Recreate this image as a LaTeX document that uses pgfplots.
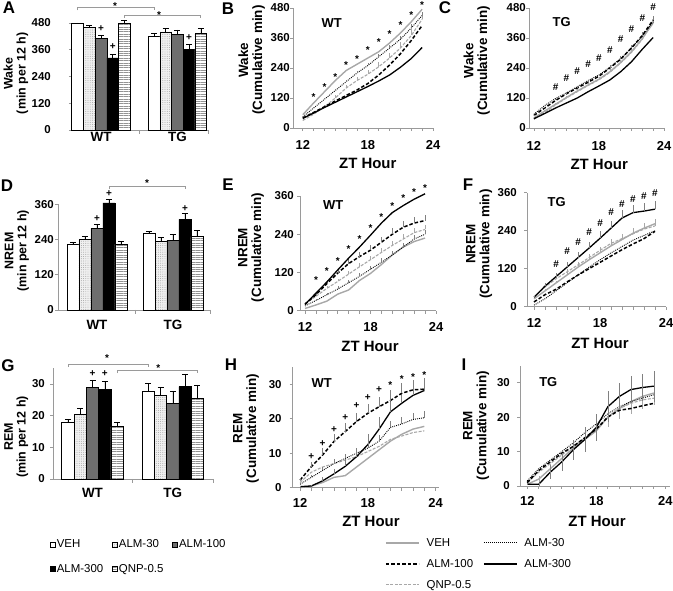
\documentclass[border=0pt]{standalone}
\usepackage{fontspec}
\setmainfont{Liberation Sans}
\usepackage{pgfplots}
\usepackage{pgfplotstable}
\pgfplotsset{compat=1.18}
\usetikzlibrary{patterns.meta}
\definecolor{axgray}{HTML}{9A9A9A}
\definecolor{lgray}{HTML}{A8A8A8}
\newcommand{\hs}{\#}

\pgfplotsset{
  base/.style={scale only axis, axis lines=left,
    axis line style={draw=axgray, line width=0.8bp, -},
    tick style={draw=axgray, line width=0.7bp},
    tick align=outside, major tick length=3bp, minor tick length=3bp,
    tick label style={font=\fontsize{11.5}{12}\selectfont\bfseries, inner sep=0pt},
    /pgf/number format/assume math mode=true,
    clip=false, ymin=0,
    ylabel style={font=\fontsize{13.5}{14}\selectfont\bfseries, align=center, anchor=center},
    xlabel style={font=\fontsize{15}{15}\selectfont\bfseries, anchor=center},
    yticklabel style={anchor=east},
    xticklabel style={anchor=center}},
  lp/.style={base, xtick={12,18,24}, minor xtick={12,...,24},
    x tick label style={font=\fontsize{13}{13}\selectfont\bfseries}},
  bp/.style={base, xtick={0,1}, xticklabels={WT,TG}, xtick style={draw=none},
    x tick label style={font=\fontsize{13.5}{14}\selectfont\bfseries},
    ylabel style={font=\fontsize{12.5}{13}\selectfont\bfseries}},
  bveh/.style={draw=black, line width=0.6bp, fill=white},
  ba30/.style={draw=black, line width=0.6bp, fill=gray!12, postaction={pattern color=gray!80, pattern={Dots[distance=2.2bp, radius=0.45bp]}}},
  ba100/.style={draw=black, line width=0.6bp, fill=black!57},
  ba300/.style={draw=black, line width=0.6bp, fill=black},
  bqnp/.style={draw=black, line width=0.6bp, fill=white, postaction={pattern color=gray!85, pattern={Lines[angle=0, distance=2.4bp, line width=0.7bp]}}},
  be/.style={error bars/.cd, y dir=plus, y explicit, error bar style={solid, black, line width=0.6bp}, error mark options={rotate=90, mark size=3bp, black, line width=0.6bp, solid}},
  lveh/.style={draw=lgray, line width=1.4bp, solid},
  la30/.style={draw=black, line width=0.9bp, dash pattern=on 0.9bp off 1.1bp},
  la100/.style={draw=black, line width=1.5bp, dash pattern=on 3.5bp off 2bp},
  la300/.style={draw=black, line width=1.3bp, solid},
  lqnp/.style={draw=lgray, line width=1.1bp, dash pattern=on 3bp off 1.5bp},
  eb/.style={error bars/.cd, y dir=plus, y explicit, error mark=none, error bar style={solid, line width=0.5bp, draw=#1}},
  ebb/.style={error bars/.cd, y dir=both, y explicit, error mark=none, error bar style={solid, line width=0.5bp, draw=#1}},
  tm/.style={only marks, mark=text, text mark={#1}, text mark as node=true, text mark style={inner sep=0pt, anchor=center, font=\fontsize{10}{10}\selectfont\bfseries}},
  brk/.style={draw=axgray, line width=0.7bp},
}

\pgfplotstableread{
x veh eveh a30 ea30 a100 ea100 a300 ea300 qnp eqnp
0 477 3 459 12 410 15 323 15 477 15
1 420 12 440 15 429 20 361 23 432 22
}\tabA
\pgfplotstableread{
x veh eveh a30 ea30 a100 ea100 a300 ea300 qnp eqnp
0 224 8 241 11 278 15 365 12 224 10
1 261 8 233 14 238 20 309 20 250 20
}\tabD
\pgfplotstableread{
x veh eveh a30 ea30 a100 ea100 a300 ea300 qnp eqnp
0 17.8 1.0 20.3 2.0 28.9 2.4 28.4 2.5 16.5 1.3
1 27.7 2.4 26.5 2.4 23.9 3.9 29.2 4.0 25.5 4.2
}\tabG
\pgfplotstableread{
h veh a30 a100 a300 qnp ea30 eqnp
12 53 45 40 38 30 3 4
13 100 80 62 60 55 5 6
14 145 115 85 82 85 6 8
15 190 150 108 103 120 7 10
16 230 185 130 124 160 8 12
17 255 220 152 145 190 9 14
18 280 250 178 166 215 10 16
19 305 285 212 188 245 11 18
20 340 320 252 212 280 12 20
21 380 355 297 243 320 13 22
22 425 400 350 278 370 14 24
23 475 450 410 322 435 15 26
}\tabB
\pgfplotstableread{
h veh a30 a100 a300 qnp eveh ea100
12 40 55 50 37 35 3 3
13 68 90 80 58 62 4 5
14 95 118 110 80 92 5 6
15 122 140 137 100 120 6 7
16 148 165 160 120 145 7 8
17 172 190 183 145 170 8 9
18 195 212 207 168 193 9 10
19 225 243 240 192 222 10 11
20 262 278 275 225 260 11 12
21 305 320 320 265 302 12 13
22 358 368 370 315 355 12 14
23 420 425 432 362 430 12 15
}\tabC
\pgfplotstableread{
h veh a30 a100 a300 qnp ea30 ea100 eqnp
12 7 15 20 20 22 3 5 4
13 18 32 50 55 45 5 8 6
14 30 50 85 90 70 6 10 8
15 52 68 118 128 92 8 12 9
16 65 88 148 165 115 9 14 10
17 95 108 170 200 138 10 15 11
18 117 130 190 237 160 11 16 12
19 145 152 215 275 183 12 17 13
20 175 175 240 308 205 12 18 14
21 200 200 262 330 225 13 18 15
22 217 225 275 350 245 13 18 15
23 228 240 283 367 255 13 18 15
}\tabE
\pgfplotstableread{
h veh a30 a100 a300 qnp eveh ea300 eqnp
12 25 5 15 30 30 3 5 3
13 50 25 38 65 62 5 10 5
14 75 50 55 95 88 7 12 7
15 100 75 78 125 110 9 15 9
16 125 100 100 155 132 10 18 10
17 148 125 120 185 155 11 20 11
18 170 148 140 216 178 12 22 12
19 192 170 160 248 200 13 24 13
20 212 190 180 280 215 14 25 14
21 232 210 198 297 230 15 25 15
22 248 225 215 302 245 15 25 15
23 262 240 238 308 255 15 25 15
}\tabF
\pgfplotstableread{
h veh a30 a100 a300 qnp ea30 ea100 ea300
12 0 1 2.2 0.3 1.5 0.3 0.5 0.2
13 0.5 3 6.1 0.5 4.5 0.8 1.5 0.4
14 1.5 5 9.5 2 6 1 2 1
15 3 7 13.4 4 7 1.2 2.2 1.5
16 3.5 8.5 16.3 6.2 8 1.4 2.5 2
17 6 10 19.2 9 9 1.5 2.5 2.5
18 8.5 11.5 21.6 12.5 10.5 1.6 2.8 3
19 11 13.5 23.5 17 12 1.8 2.8 3.5
20 13.5 17.5 25.3 22 14 1.8 3 3.5
21 15.5 18.5 27.4 24.5 15 2 3 3.5
22 17 19.8 28.4 26.8 16 2 3 3.5
23 17.8 20.3 28.6 28.2 16.5 2 3 3.5
}\tabH
\pgfplotstableread{
h veh a30 a100 a300 qnp ea300 eveh
12 0.5 1.5 1 0.5 1 0.3 0.3
13 2 5 4.5 0.5 4 0.5 1
14 5 7.5 7 4 6.5 2 1.5
15 8 10 9.5 7 9 2.5 2
16 11 12.5 11.5 10.5 11.5 3 2
17 13.5 15.5 14 13.5 14 3.5 2.5
18 16 18 16.5 17 16.5 4 3
19 20 21 20 23 20 4.5 3
20 22.5 23 22 26 22.5 4 3
21 24.5 24.5 22.5 28 24 4 3.5
22 26 25.5 23.3 28.6 25 4 3.5
23 27 26.5 24 29 25.5 4.5 3.5
}\tabI

\begin{document}
\begin{tikzpicture}
\path[use as bounding box] (0bp,0bp) rectangle (673bp,591bp);

% ---------- A ----------
\begin{axis}[bp, at={(72bp,461bp)}, anchor=south west, width=136bp, height=107bp,
  xmin=-0.38, xmax=1.40, ymax=480, ytick={0,120,240,360,480},
  ylabel={Wake\\(min per 12 h)}, ylabel style={at={(axis description cs:-0.412,0.53)}},
  yticklabel style={xshift=-18bp}, xticklabel style={yshift=-3.7bp}]
\addplot[ybar, bar width=11.7bp, bar shift=0bp, bveh, be] table[x expr=\thisrow{x}-0.3063,y=veh,y error=eveh]{\tabA};
\addplot[ybar, bar width=11.7bp, bar shift=0bp, ba30, be] table[x expr=\thisrow{x}-0.1531,y=a30,y error=ea30]{\tabA};
\addplot[ybar, bar width=11.7bp, bar shift=0bp, ba100, be] table[x=x,y=a100,y error=ea100]{\tabA};
\addplot[ybar, bar width=11.7bp, bar shift=0bp, ba300, be] table[x expr=\thisrow{x}+0.1531,y=a300,y error=ea300]{\tabA};
\addplot[ybar, bar width=11.7bp, bar shift=0bp, bqnp, be] table[x expr=\thisrow{x}+0.3063,y=qnp,y error=eqnp]{\tabA};
\addplot[brk] coordinates {(0.5,0) (0.5,-18)};
\addplot[brk] coordinates {(1.40,0) (1.40,-18)};
\addplot[brk] coordinates {(-0.306,537) (-0.306,550) (0.694,550) (0.694,537)};
\addplot[brk] coordinates {(0.306,504) (0.306,516) (1.306,516) (1.306,504)};
\addplot[tm=*] coordinates {(0.183,556) (0.76,517)};
\addplot[tm=+] coordinates {(0,456) (0.153,374) (1.153,416)};
\end{axis}

% ---------- B ----------
\begin{axis}[lp, at={(293bp,463bp)}, anchor=south west, width=140bp, height=120bp,
  xmin=11.1, xmax=24, ymax=480, ytick={0,120,240,360,480},
  ylabel={Wake\\(Cumulative min)}, ylabel style={at={(axis description cs:-0.295,0.567)}},
  xlabel={ZT Hour}, xlabel style={at={(axis description cs:0.534,0)}, yshift=-35.3bp},
  xticklabel style={yshift=-14bp}, yticklabel style={xshift=0bp}]
\addplot[lqnp, eb=lgray] table[x=h,y=qnp,y error=eqnp]{\tabB};
\addplot[lveh] table[x=h,y=veh]{\tabB};
\addplot[la30, eb=gray] table[x=h,y=a30,y error=ea30]{\tabB};
\addplot[la100] table[x=h,y=a100]{\tabB};
\addplot[la300] table[x=h,y=a300]{\tabB};
\addplot[tm=*] coordinates {(13,123) (14,165) (15,205) (16,252) (17,276) (18,312) (19,343) (20,376) (21,412) (22,452) (23,492)};
\end{axis}

% ---------- C ----------
\begin{axis}[lp, at={(529bp,463bp)}, anchor=south west, width=135bp, height=120bp,
  xmin=11.55, xmax=24, ymax=480, ytick={0,120,240,360,480},
  ylabel={Wake\\(Cumulative min)}, ylabel style={at={(axis description cs:-0.387,0.56)}},
  xlabel={ZT Hour}, xlabel style={at={(axis description cs:0.52,0)}, yshift=-36bp},
  xticklabel style={yshift=-14.7bp}, yticklabel style={xshift=0bp}]
\addplot[lqnp] table[x=h,y=qnp]{\tabC};
\addplot[lveh, eb=lgray] table[x=h,y=veh,y error=eveh]{\tabC};
\addplot[la30] table[x=h,y=a30]{\tabC};
\addplot[la100, eb=gray] table[x=h,y=a100,y error=ea100]{\tabC};
\addplot[la300] table[x=h,y=a300]{\tabC};
\addplot[tm=\hs] coordinates {(14,164) (15,200) (16,227) (17,256) (18,280) (19,313) (20,356) (21,396) (22,440) (23,484)};
\end{axis}

% ---------- D ----------
\begin{axis}[bp, at={(58bp,281bp)}, anchor=south west, width=152bp, height=105.7bp,
  xmin=-0.513, xmax=1.487, ymax=360, ytick={0,120,240,360},
  ylabel={NREM\\(min per 12 h)}, ylabel style={at={(axis description cs:-0.27,0.56)}},
  yticklabel style={xshift=-1bp}, xticklabel style={yshift=-12bp}]
\addplot[ybar, bar width=12bp, bar shift=0bp, bveh, be] table[x expr=\thisrow{x}-0.3158,y=veh,y error=eveh]{\tabD};
\addplot[ybar, bar width=12bp, bar shift=0bp, ba30, be] table[x expr=\thisrow{x}-0.1579,y=a30,y error=ea30]{\tabD};
\addplot[ybar, bar width=12bp, bar shift=0bp, ba100, be] table[x=x,y=a100,y error=ea100]{\tabD};
\addplot[ybar, bar width=12bp, bar shift=0bp, ba300, be] table[x expr=\thisrow{x}+0.1579,y=a300,y error=ea300]{\tabD};
\addplot[ybar, bar width=12bp, bar shift=0bp, bqnp, be] table[x expr=\thisrow{x}+0.3158,y=qnp,y error=eqnp]{\tabD};
\addplot[brk] coordinates {(0.5,0) (0.5,-13.6)};
\addplot[brk] coordinates {(1.487,0) (1.487,-13.6)};
\addplot[brk] coordinates {(0.158,412) (0.158,422) (1.158,422) (1.158,412)};
\addplot[tm=*] coordinates {(0.658,432)};
\addplot[tm=+] coordinates {(0,312) (0.158,395) (1.158,346)};
\end{axis}

% ---------- E ----------
\begin{axis}[lp, at={(300bp,280.3bp)}, anchor=south west, width=136bp, height=114.7bp,
  xmin=11.54, xmax=24, ymax=360, ytick={0,120,240,360},
  ylabel={NREM\\(Cumulative min)}, ylabel style={at={(axis description cs:-0.36,0.55)}},
  xlabel={ZT Hour}, xlabel style={at={(axis description cs:0.515,0)}, yshift=-36bp},
  xticklabel style={yshift=-13bp}, yticklabel style={xshift=-3bp}]
\addplot[lveh] table[x=h,y=veh]{\tabE};
\addplot[la30, eb=gray] table[x=h,y=a30,y error=ea30]{\tabE};
\addplot[lqnp, eb=lgray] table[x=h,y=qnp,y error=eqnp]{\tabE};
\addplot[la100, eb=gray] table[x=h,y=a100,y error=ea100]{\tabE};
\addplot[la300] table[x=h,y=a300]{\tabE};
\addplot[tm=*] coordinates {(13,95) (14,124) (15,157) (16,192) (17,225) (18,258) (19,295) (20,328) (21,352) (22,373) (23,386)};
\end{axis}

% ---------- F ----------
\begin{axis}[lp, at={(527bp,284.3bp)}, anchor=south west, width=139bp, height=114bp,
  xmin=11.36, xmax=24, ymax=360, ytick={0,120,240,360},
  ylabel={NREM\\(Cumulative min)}, ylabel style={at={(axis description cs:-0.345,0.55)}},
  xlabel={ZT Hour}, xlabel style={at={(axis description cs:0.525,0)}, yshift=-36.6bp},
  xticklabel style={yshift=-13.6bp}, yticklabel style={xshift=-7bp}]
\addplot[lveh, eb=lgray] table[x=h,y=veh,y error=eveh]{\tabF};
\addplot[lqnp, eb=lgray] table[x=h,y=qnp,y error=eqnp]{\tabF};
\addplot[la30] table[x=h,y=a30]{\tabF};
\addplot[la100] table[x=h,y=a100]{\tabF};
\addplot[la300, eb=gray] table[x=h,y=a300,y error=ea300]{\tabF};
\addplot[tm=\hs] coordinates {(14,135) (15,174) (16,205) (17,234) (18,265) (19,300) (20,324) (21,339) (22,349) (23,360)};
\end{axis}

% ---------- G ----------
\begin{axis}[bp, at={(53.3bp,112bp)}, anchor=south west, width=159.7bp, height=110.8bp,
  xmin=-0.488, xmax=1.50, ymax=35, ytick={0,10,20,30},
  ylabel={REM\\(min per 12 h)}, ylabel style={at={(axis description cs:-0.232,0.38)}},
  yticklabel style={xshift=-5.3bp}, xticklabel style={yshift=-11.3bp}]
\addplot[ybar, bar width=12.3bp, bar shift=0bp, bveh, be] table[x expr=\thisrow{x}-0.3064,y=veh,y error=eveh]{\tabG};
\addplot[ybar, bar width=12.3bp, bar shift=0bp, ba30, be] table[x expr=\thisrow{x}-0.1532,y=a30,y error=ea30]{\tabG};
\addplot[ybar, bar width=12.3bp, bar shift=0bp, ba100, be] table[x=x,y=a100,y error=ea100]{\tabG};
\addplot[ybar, bar width=12.3bp, bar shift=0bp, ba300, be] table[x expr=\thisrow{x}+0.1532,y=a300,y error=ea300]{\tabG};
\addplot[ybar, bar width=12.3bp, bar shift=0bp, bqnp, be] table[x expr=\thisrow{x}+0.3064,y=qnp,y error=eqnp]{\tabG};
\addplot[brk] coordinates {(0.5,0) (0.5,-1.26)};
\addplot[brk] coordinates {(1.50,0) (1.50,-1.26)};
\addplot[brk] coordinates {(-0.306,35.4) (-0.306,36.3) (0.694,36.3) (0.694,35.4)};
\addplot[brk] coordinates {(0.306,33.4) (0.306,34.2) (1.306,34.2) (1.306,33.4)};
\addplot[tm=*] coordinates {(0.18,38.2) (0.82,35.1)};
\addplot[tm=+] coordinates {(0,33.2) (0.153,33.2)};
\end{axis}

% ---------- H ----------
\begin{axis}[lp, at={(292.7bp,103.3bp)}, anchor=south west, width=146.3bp, height=120.6bp,
  xmin=11.35, xmax=24.3, ymax=35, ytick={0,10,20,30},
  ylabel={REM\\(Cumulative min)}, ylabel style={at={(axis description cs:-0.319,0.49)}},
  xlabel={ZT Hour}, xlabel style={at={(axis description cs:0.535,0)}, yshift=-33.3bp},
  xticklabel style={yshift=-12bp}, yticklabel style={xshift=-8bp}]
\addplot[lveh] table[x=h,y=veh]{\tabH};
\addplot[lqnp] table[x=h,y=qnp]{\tabH};
\addplot[la30, eb=gray] table[x=h,y=a30,y error=ea30]{\tabH};
\addplot[la300, eb=gray] table[x=h,y=a300,y error=ea300]{\tabH};
\addplot[la100, eb=gray] table[x=h,y=a100,y error=ea100]{\tabH};
\addplot[tm=+] coordinates {(13,9.0) (14,12.9) (15,16.9) (16,20.3) (17,23.7) (18,26.2) (19,28.6)};
\addplot[tm=*] coordinates {(20,29.9) (21,31.6) (22,32.1) (23,32.6)};
\end{axis}

% ---------- I ----------
\begin{axis}[lp, at={(520bp,105bp)}, anchor=south west, width=149.9bp, height=120.5bp,
  xmin=11.37, xmax=24.4, ymax=35, ytick={0,10,20,30},
  ylabel={REM\\(Cumulative min)}, ylabel style={at={(axis description cs:-0.292,0.5)}},
  xlabel={ZT Hour}, xlabel style={at={(axis description cs:0.514,0)}, yshift=-35bp},
  xticklabel style={yshift=-12bp}, yticklabel style={xshift=-7bp}]
\addplot[lveh, ebb=lgray] table[x=h,y=veh,y error=eveh]{\tabI};
\addplot[lqnp] table[x=h,y=qnp]{\tabI};
\addplot[la30] table[x=h,y=a30]{\tabI};
\addplot[la100] table[x=h,y=a100]{\tabI};
\addplot[la300, ebb=gray] table[x=h,y=a300,y error=ea300]{\tabI};
\end{axis}

% ---------- legends ----------
\begin{axis}[hide axis, scale only axis, width=673bp, height=591bp, at={(0bp,0bp)}, anchor=south west,
  xmin=0, xmax=1, ymin=0, ymax=1, legend columns=3, legend cell align=left,
  legend style={at={(0.0743,0.0885)}, anchor=north west, draw=none, fill=none, inner sep=0pt,
    font=\fontsize{11.5}{12}\selectfont, row sep=13bp, nodes={inner sep=1bp},
    /tikz/every even column/.append style={column sep=8bp}},
  legend image code/.code={\draw[#1] (0bp,-2.5bp) rectangle (5bp,2.5bp);}]
\addlegendimage{bveh}\addlegendentry{VEH}
\addlegendimage{ba30}\addlegendentry{ALM-30}
\addlegendimage{ba100}\addlegendentry{ALM-100}
\addlegendimage{ba300}\addlegendentry{ALM-300}
\addlegendimage{bqnp}\addlegendentry{QNP-0.5}
\end{axis}
\begin{axis}[hide axis, scale only axis, width=673bp, height=591bp, at={(0bp,0bp)}, anchor=south west,
  xmin=0, xmax=1, ymin=0, ymax=1, legend columns=2, legend cell align=left,
  legend style={at={(0.572,0.0915)}, anchor=north west, draw=none, fill=none, inner sep=0pt,
    font=\fontsize{11.5}{12}\selectfont, row sep=9.5bp, nodes={inner sep=1bp},
    /tikz/every odd column/.append style={column sep=6bp},
    /tikz/every even column/.append style={column sep=9bp}},
  legend image code/.code={\draw[#1] (0bp,0bp) -- (33bp,0bp);}]
\addlegendimage{lveh}\addlegendentry{VEH}
\addlegendimage{la30}\addlegendentry{ALM-30}
\addlegendimage{la100}\addlegendentry{ALM-100}
\addlegendimage{la300}\addlegendentry{ALM-300}
\addlegendimage{lqnp}\addlegendentry{QNP-0.5}
\end{axis}

% ---------- annotations ----------
\begin{scope}[every node/.style={font=\fontsize{17}{17}\selectfont\bfseries, inner sep=0pt}]
\node at (9bp,583.5bp) {A};
\node at (228bp,582bp) {B};
\node at (445bp,583bp) {C};
\node at (7bp,405bp) {D};
\node at (228bp,406bp) {E};
\node at (468bp,406bp) {F};
\node at (8bp,225bp) {G};
\node at (231bp,226bp) {H};
\node at (464bp,226bp) {I};
\end{scope}
\begin{scope}[every node/.style={font=\fontsize{13}{13}\selectfont\bfseries, inner sep=0pt}]
\node at (331.7bp,567.7bp) {WT};
\node at (561.7bp,569.3bp) {TG};
\node at (333.3bp,386bp) {WT};
\node at (556.7bp,389.3bp) {TG};
\node at (321.7bp,207.7bp) {WT};
\node at (548.3bp,209.3bp) {TG};
\end{scope}
\end{tikzpicture}
\end{document}
